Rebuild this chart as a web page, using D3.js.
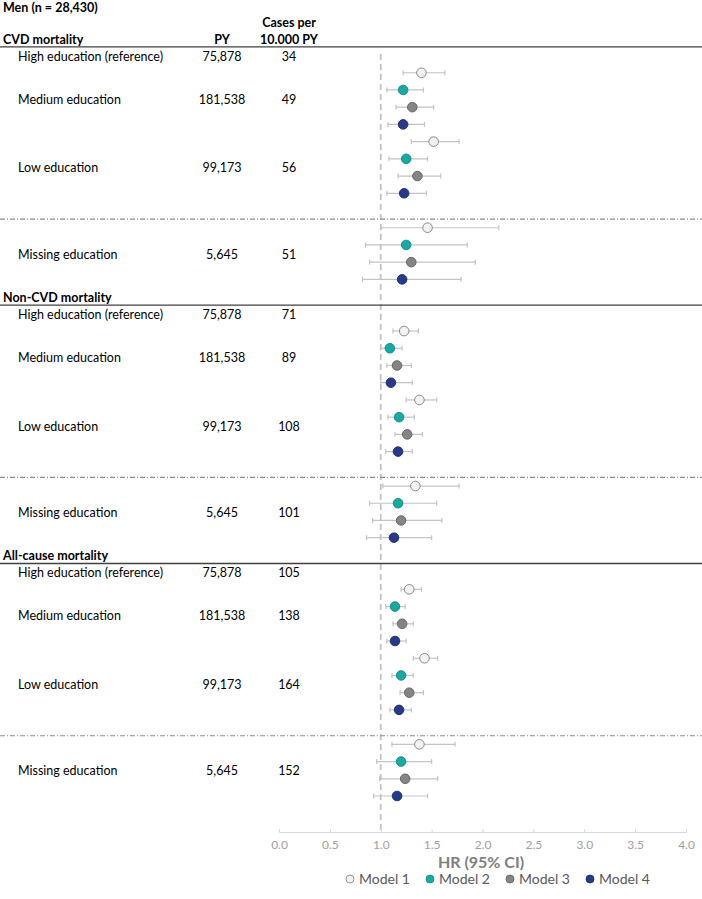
<!DOCTYPE html>
<html><head><meta charset="utf-8">
<script src="https://cdn.jsdelivr.net/npm/d3@7"></script>
<style>body{margin:0;background:#fff}svg{display:block}</style>
</head><body><div id="chart"></div>
<script>
// ---------- data ----------
const title = "Men (n = 28,430)";
const sections = ["CVD mortality", "Non-CVD mortality", "All-cause mortality"];
const groups = ["High education (reference)", "Medium education", "Low education", "Missing education"];
const personYears = ["75,878", "181,538", "99,173", "5,645"];
const casesPer10000 = [[34, 49, 56, 51], [71, 89, 108, 101], [105, 138, 164, 152]];
const models = ["Model 1", "Model 2", "Model 3", "Model 4"];
const modelColors = ["#f2f2f2", "#17a9a3", "#858585", "#263a8a"];
const modelStroke = ["#7f7f7f", "#0f8a85", "#5f5f5f", "#1a2a6a"];
// HR per section: rows = Medium, Low, Missing; columns = Model 1..4
const cvdHR = [[1.40, 1.22, 1.31, 1.22], [1.52, 1.25, 1.36, 1.23], [1.46, 1.25, 1.30, 1.21]];
const cvdLo = [[1.22, 1.06, 1.15, 1.07], [1.30, 1.08, 1.17, 1.06], [1.00, 0.85, 0.89, 0.82]];
const cvdHi = [[1.63, 1.42, 1.52, 1.43], [1.77, 1.46, 1.59, 1.45], [2.16, 1.85, 1.93, 1.79]];
const nonHR = [[1.23, 1.09, 1.16, 1.10], [1.38, 1.18, 1.26, 1.17], [1.34, 1.17, 1.20, 1.13]];
const nonLo = [[1.12, 1.00, 1.06, 1.00], [1.25, 1.07, 1.14, 1.05], [1.02, 0.89, 0.92, 0.86]];
const nonHi = [[1.37, 1.21, 1.30, 1.31], [1.55, 1.33, 1.41, 1.31], [1.77, 1.55, 1.60, 1.50]];
const allHR = [[1.28, 1.14, 1.21, 1.14], [1.43, 1.20, 1.28, 1.18], [1.38, 1.20, 1.24, 1.16]];
const allLo = [[1.20, 1.05, 1.12, 1.06], [1.32, 1.11, 1.19, 1.09], [1.11, 0.96, 0.99, 0.93]];
const allHi = [[1.40, 1.24, 1.32, 1.25], [1.56, 1.32, 1.42, 1.30], [1.73, 1.50, 1.56, 1.46]];
const xTicks = [0, 0.5, 1, 1.5, 2, 2.5, 3, 3.5, 4];
const axisTitle = "HR (95% CI)";

const hrSets = [[cvdHR, cvdLo, cvdHi], [nonHR, nonLo, nonHi], [allHR, allLo, allHi]];

// ---------- layout ----------
const W = 702, H = 899;
const FONT = "Lato, 'Open Sans', sans-serif";
const svg = d3.select("#chart").append("svg").attr("width", W).attr("height", H)
  .style("font-family", FONT);

const x = d3.scaleLinear().domain([0, 4]).range([279, 686]);
const y = d3.scaleLinear().domain([-2, 42]).range([38.3, 796]);
const colPY = 222, colCases = 289, axisY = 832;

// title + header
svg.append("text").attr("x", 3).attr("y", 11.5).attr("font-weight", 700).attr("font-size", 12.5)
  .attr("fill", "#000").text(title);
svg.append("text").attr("x", colCases).attr("y", 27).attr("text-anchor", "middle")
  .attr("font-weight", 700).attr("font-size", 12.5).text("Cases per");

// reference dashed line
svg.append("line").attr("x1", x(1)).attr("x2", x(1)).attr("y1", 54).attr("y2", axisY)
  .attr("stroke", "#c4c4c4").attr("stroke-width", 1.8).attr("stroke-dasharray", "6,4");

const rowsData = [];
sections.forEach((sec, s) => {
  const base = s * 15;
  // section title
  svg.append("text").attr("x", 3).attr("y", y(base - 2) + 5.5).attr("font-weight", 700)
    .attr("font-size", 12.5).text(sec);
  if (s === 0) {
    svg.append("text").attr("x", colPY).attr("y", y(base - 2) + 5.5).attr("text-anchor", "middle")
      .attr("font-weight", 700).attr("font-size", 12.5).text("PY");
    svg.append("text").attr("x", colCases).attr("y", y(base - 2) + 5.5).attr("text-anchor", "middle")
      .attr("font-weight", 700).attr("font-size", 12.5).text("10.000 PY");
  }
  // solid line
  svg.append("line").attr("x1", 0).attr("x2", W).attr("y1", y(base - 1.5)).attr("y2", y(base - 1.5))
    .attr("stroke", "#404040").attr("stroke-width", 1.3);
  // dash-dot separator
  svg.append("line").attr("x1", 0).attr("x2", W).attr("y1", y(base + 8.5)).attr("y2", y(base + 8.5))
    .attr("stroke", "#8a8a8a").attr("stroke-width", 1.2).attr("stroke-dasharray", "5,2,1,2");
  // labels
  const labelRows = [base - 1, base + 1.5, base + 5.5, base + 10.5];
  groups.forEach((g, i) => {
    const ty = y(labelRows[i]) + 5;
    svg.append("text").attr("x", 18).attr("y", ty).attr("font-size", 12.5).text(g);
    svg.append("text").attr("x", colPY).attr("y", ty).attr("text-anchor", "middle").attr("font-size", 12.5).text(personYears[i]);
    svg.append("text").attr("x", colCases).attr("y", ty).attr("text-anchor", "middle").attr("font-size", 12.5).text(casesPer10000[s][i]);
  });
  const [hr, lo, hi] = hrSets[s];
  const starts = [base, base + 4, base + 9];
  hr.forEach((row, gi) => {
    row.forEach((v, m) => {
      rowsData.push({ row: starts[gi] + m, hr: v, lo: lo[gi][m], hi: hi[gi][m], m });
    });
  });
});

// error bars
const eb = svg.append("g").attr("stroke", "#c3c3c3").attr("stroke-width", 1.2);
rowsData.forEach(d => {
  const yy = y(d.row);
  eb.append("line").attr("x1", x(d.lo)).attr("x2", x(d.hi)).attr("y1", yy).attr("y2", yy);
  eb.append("line").attr("x1", x(d.lo)).attr("x2", x(d.lo)).attr("y1", yy - 2.5).attr("y2", yy + 2.5);
  eb.append("line").attr("x1", x(d.hi)).attr("x2", x(d.hi)).attr("y1", yy - 2.5).attr("y2", yy + 2.5);
});
svg.append("g").selectAll("circle").data(rowsData).join("circle")
  .attr("cx", d => x(d.hr)).attr("cy", d => y(d.row)).attr("r", 4.8)
  .attr("fill", d => modelColors[d.m]).attr("stroke", d => modelStroke[d.m]).attr("stroke-width", 0.9);

// x axis
const ax = svg.append("g").attr("transform", `translate(0,${axisY})`)
  .call(d3.axisTop(x).tickValues(xTicks).tickSize(3).tickFormat(d3.format(".1f")));
ax.select(".domain").attr("stroke", "#d9d9d9");
ax.selectAll(".tick line").attr("stroke", "#d9d9d9");
ax.selectAll(".tick text").attr("y", 17).attr("dy", 0).attr("fill", "#a0a0a0")
  .attr("font-size", 12).attr("font-family", FONT);

svg.append("text").attr("x", 481).attr("y", 868).attr("text-anchor", "middle")
  .attr("font-weight", 700).attr("font-size", 16).attr("fill", "#808080").text(axisTitle);

// legend
const legX = [350, 430, 510, 590];
const leg = svg.append("g").selectAll("g").data(models).join("g")
  .attr("transform", (d, i) => `translate(${legX[i]},879)`);
leg.append("circle").attr("r", 4).attr("fill", (d, i) => modelColors[i]).attr("stroke", (d, i) => modelStroke[i]).attr("stroke-width", 0.8);
leg.append("text").attr("x", 9).attr("y", 5).attr("font-size", 14).attr("fill", "#595959").text(d => d);
</script></body></html>
